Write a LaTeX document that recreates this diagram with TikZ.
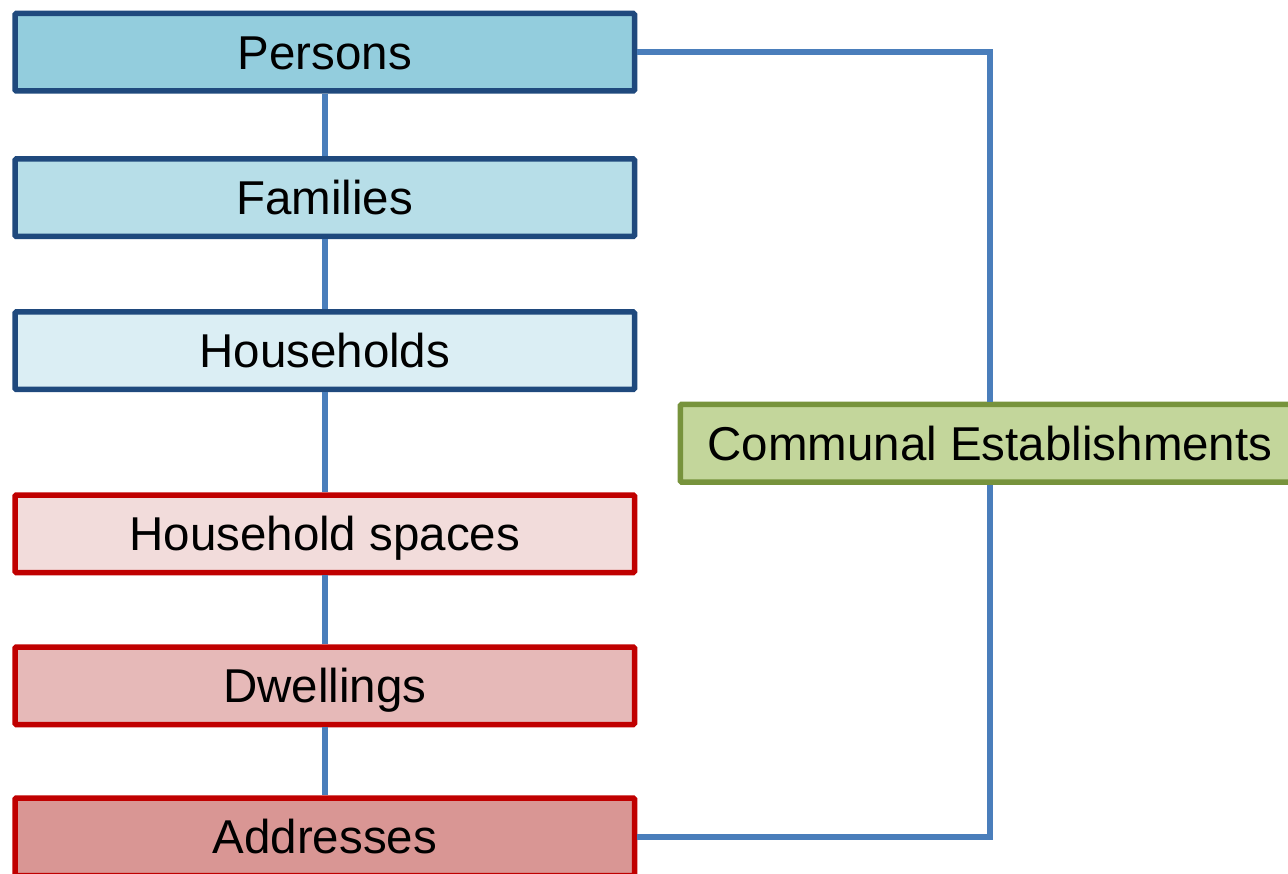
\documentclass[tikz,border=0pt]{standalone}
\usepackage{fontspec}
\setmainfont{Liberation Sans}
\definecolor{bluebd}{HTML}{1F497D}
\definecolor{redbd}{HTML}{C00000}
\definecolor{greenbd}{HTML}{77933C}
\definecolor{linkc}{HTML}{4A7EBB}
\definecolor{fpersons}{HTML}{93CDDD}
\definecolor{ffamilies}{HTML}{B7DEE8}
\definecolor{fhouseholds}{HTML}{DBEEF4}
\definecolor{fspaces}{HTML}{F2DCDB}
\definecolor{fdwell}{HTML}{E6B9B8}
\definecolor{faddr}{HTML}{D99694}
\definecolor{fcomm}{HTML}{C3D69B}
\tikzset{
  box/.style={draw, line width=5.5pt, rounded corners=1.2pt, minimum width=619.5pt,
    minimum height=77.5pt, inner sep=0pt, text height=34pt, text depth=0pt,
    font=\fontsize{47.5}{50}\selectfont},
  bluebox/.style={box, draw=bluebd},
  redbox/.style={box, draw=redbd},
  greenbox/.style={box, draw=greenbd},
  link/.style={draw=linkc, line width=5.5pt}
}
\begin{document}
\begin{tikzpicture}[x=1pt,y=-1pt]
\useasboundingbox (0,0) rectangle (1288,874);
\node[bluebox, fill=fpersons] (persons) at (324.75,52.25) {Persons};
\node[bluebox, fill=ffamilies] (families) at (324.75,197.75) {Families};
\node[bluebox, fill=fhouseholds] (households) at (324.75,350.75) {Households};
\node[redbox, fill=fspaces] (spaces) at (324.75,533.75) {Household spaces};
\node[redbox, fill=fdwell] (dwellings) at (324.75,685.75) {Dwellings};
\node[redbox, fill=faddr] (addresses) at (324.75,836.75) {Addresses};
\node[greenbox, fill=fcomm] (communal) at (990,443.25) {Communal Establishments};
\draw[link] (persons) -- (families);
\draw[link] (families) -- (households);
\draw[link] (households) -- (spaces);
\draw[link] (spaces) -- (dwellings);
\draw[link] (dwellings) -- (addresses);
\draw[link] (persons.east) -| (communal.north);
\draw[link] (addresses.east) -| (communal.south);
\end{tikzpicture}
\end{document}
